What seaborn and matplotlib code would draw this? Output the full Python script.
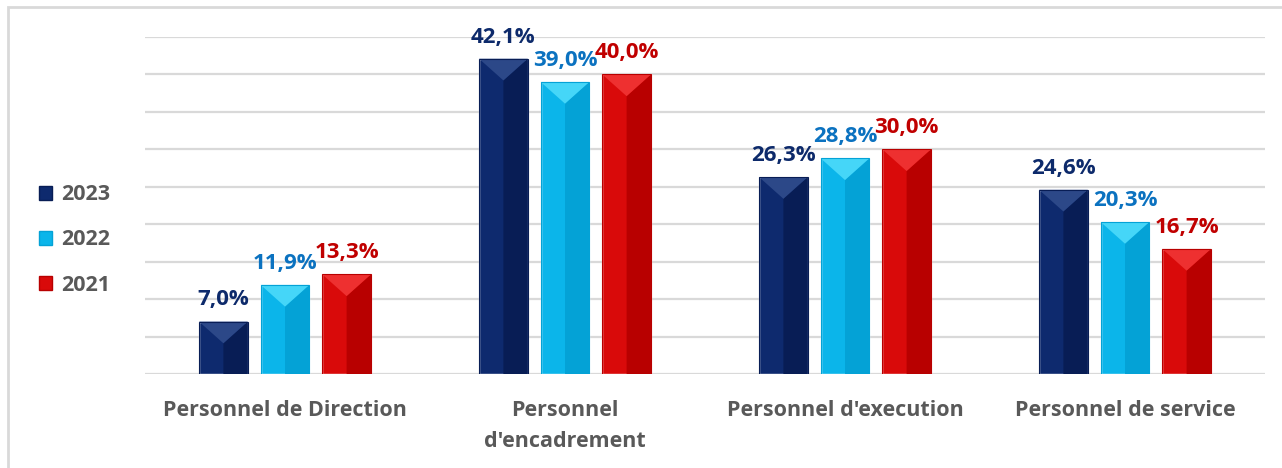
import pandas as pd
import matplotlib
matplotlib.use("Agg")
import matplotlib.pyplot as plt
import seaborn as sns
from matplotlib.patches import Patch, Polygon, Rectangle

# Data (percent)
categories = ["Personnel de Direction", "Personnel\nd'encadrement",
              "Personnel d'execution", "Personnel de service"]
years = ["2023", "2022", "2021"]
values_2023 = [7.0, 42.1, 26.3, 24.6]
values_2022 = [11.9, 39.0, 28.8, 20.3]
values_2021 = [13.3, 40.0, 30.0, 16.7]

df = pd.DataFrame({
    "Categorie": categories * 3,
    "Annee": [y for y in years for _ in categories],
    "Part": values_2023 + values_2022 + values_2021,
})

bar_colors = {"2023": "#0E2A6E", "2022": "#0BB5EA", "2021": "#D90A0A"}
top_colors = {"2023": "#2C4888", "2022": "#45D6F8", "2021": "#EE3030"}
right_colors = {"2023": "#081D55", "2022": "#04A2D6", "2021": "#B80000"}
label_colors = {"2023": "#0D2A6B", "2022": "#0B72C0", "2021": "#C00000"}

sns.set_theme(style="white")
plt.rcParams["font.family"] = ["Open Sans", "DejaVu Sans"]

fig = plt.figure(figsize=(12.82, 4.68), dpi=100)
ax = fig.add_axes([145 / 1282, 1 - 374 / 468, 1120 / 1282, 337 / 468])

sns.barplot(data=df, x="Categorie", y="Part", hue="Annee", hue_order=years,
            order=categories, palette=bar_colors, width=0.66, gap=0.21,
            saturation=1, legend=False, ax=ax, zorder=3)

ax.set_ylim(0, 45)
ax.set_xlim(-0.5, 3.5)
ax.set_yticks(range(0, 46, 5))
ax.yaxis.grid(True, color="#D9D9D9", linewidth=1.6, zorder=0)
ax.tick_params(axis="y", left=False, labelleft=False)
ax.tick_params(axis="x", bottom=False, pad=13, labelsize=15.5, labelcolor="#595959")
for lbl in ax.get_xticklabels():
    lbl.set_fontweight("bold")
    lbl.set_linespacing(1.6)
    lbl.set_verticalalignment("top")
ax.set_xlabel("")
ax.set_ylabel("")
sns.despine(ax=ax, left=True, bottom=True, top=True, right=True)

# bevel facets + value labels, derived from each drawn bar
bars = [p for p in ax.patches if isinstance(p, Rectangle) and p.get_height() > 0]
bars = sorted(bars, key=lambda p: p.get_x())
vals = {"2023": values_2023, "2022": values_2022, "2021": values_2021}
depth = 2.9
for bar in bars:
    x0, w, h = bar.get_x(), bar.get_width(), bar.get_height()
    cat_idx = int(round(x0 + w / 2))
    yr = None
    for y in years:
        if abs(vals[y][cat_idx] - h) < 1e-6:
            yr = y
    xm = x0 + w / 2
    d = min(depth, h)
    # right half darker
    ax.add_patch(Polygon([(xm, 0), (x0 + w, 0), (x0 + w, h), (xm, h - d)],
                         closed=True, facecolor=right_colors[yr], edgecolor="none", zorder=4))
    # top triangle lighter
    ax.add_patch(Polygon([(x0, h), (x0 + w, h), (xm, h - d)],
                         closed=True, facecolor=top_colors[yr], edgecolor="none", zorder=4))
    ax.add_patch(Rectangle((x0, 0), w, h, facecolor="none",
                           edgecolor=right_colors[yr], linewidth=0.8, zorder=5))
    ax.annotate(f"{h:.1f}%".replace(".", ","), (xm, h), xytext=(0, 8),
                textcoords="offset points", ha="center", va="bottom",
                fontsize=16, fontweight="bold", color=label_colors[yr],
                zorder=6, annotation_clip=False)

# legend on the left
handles = [Patch(facecolor=bar_colors[y], edgecolor=right_colors[y], label=y) for y in years]
leg = fig.legend(handles=handles, loc="upper left", bbox_to_anchor=(20 / 1282, 1 - 165 / 468),
                 frameon=False, handlelength=0.6, handleheight=0.6, handletextpad=0.4,
                 labelspacing=1.12, prop={"family": "Open Sans", "weight": "bold", "size": 15.5})
for t in leg.get_texts():
    t.set_color("#595959")

# outer chart frame
fig.patches.append(Rectangle((8 / 1282, -0.1), 1.2, 1 - 7 / 468 + 0.1, transform=fig.transFigure,
                             facecolor="none", edgecolor="#D9D9D9", linewidth=2, zorder=0))

fig.savefig("out.png", dpi=100)
